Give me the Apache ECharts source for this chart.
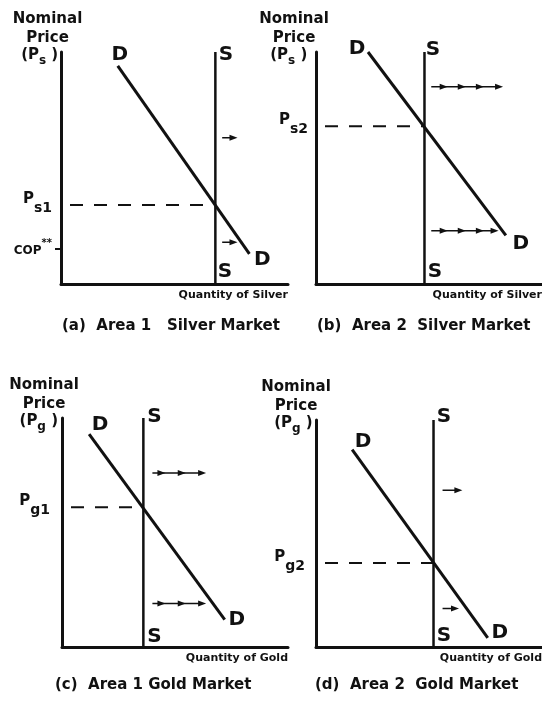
<!DOCTYPE html>
<html>
<head>
<meta charset="utf-8">
<script src="https://cdn.jsdelivr.net/npm/echarts@6/dist/echarts.min.js"></script>
<style>
html, body { margin: 0; padding: 0; background: #fff; }
#chart { width: 542px; height: 703px; }
</style>
</head>
<body>
<div id="chart"></div>
<script>
// values, every panel runs 0..10 on both axes
const captions = ['(a)  Area 1   Silver Market', '(b)  Area 2  Silver Market', '(c)  Area 1 Gold Market', '(d)  Area 2  Gold Market'];
const quantityNames = ['Quantity of Silver', 'Quantity of Silver', 'Quantity of Gold', 'Quantity of Gold'];
const priceSymbols = ['s', 's', 'g', 'g'];
const priceTicks = ['s1', 's2', 'g1', 'g2'];
const supplyQty = [6.8, 4.8, 3.6, 5.2];
const demandTop = [[2.5, 9.4], [2.3, 10.0], [1.2, 9.3], [1.6, 8.7]];
const demandBottom = [[8.3, 1.3], [8.4, 2.1], [7.2, 1.2], [7.6, 0.4]];
const eqPrice = [3.4, 6.8, 6.1, 3.7];
const copPrice = 1.5;
const arrowTail = [7.1, 5.1, 4.0, 5.6];
const upperArrowY = [6.3, 8.5, 7.6, 6.9];
const lowerArrowY = [1.8, 2.3, 1.9, 1.7];
const upperHeads = [[7.6], [5.65, 6.45, 7.25, 8.1], [4.4, 5.3, 6.2], [6.3]];
const lowerHeads = [[7.6], [5.65, 6.45, 7.25, 7.9], [4.4, 5.3, 6.2], [6.15]];

const INK = '#111';
const FONT = 'DejaVu Sans';

// layout of the four panels (pixels)
const grids = [
  { left: 61, top: 52, width: 227, height: 232 },
  { left: 316, top: 52, width: 226, height: 232 },
  { left: 62, top: 418, width: 226, height: 229 },
  { left: 316, top: 420, width: 226, height: 227 }
];
const titlePos = [[62, 319], [317, 319], [55, 678], [315, 678]];
const tickMargin = [9, 8, 12, 11];
const namePadRight = [27, 44, 36, 40];
const nameTrail = ['   ', '  ', '  ', ' '];
// label offsets from line ends: [S bottom, S top, D top, D bottom]
const labelOffsets = [
  [[9.5, -12], [10.5, 2.5], [2, -11], [13, 6]],
  [[10.5, -12], [8.5, -2.5], [-11, -3], [15, 9]],
  [[11, -10], [11, -1], [11, -9], [12, 0]],
  [[10.5, -11], [10.5, -3], [11, -8], [12, -5]]
];

function letter(text, offset) {
  return {
    show: true, position: 'inside', offset: offset, formatter: text,
    color: INK, fontFamily: FONT, fontWeight: 'bold', fontSize: 20
  };
}
function tok(size, lh, va, pad) {
  const t = { fontFamily: FONT, fontWeight: 'bold', fontSize: size, color: INK, lineHeight: lh, verticalAlign: va };
  if (pad) t.padding = pad;
  return t;
}

const xAxes = [], yAxes = [], series = [], titles = [];

for (let i = 0; i < 4; i++) {
  titles.push({
    text: captions[i], left: titlePos[i][0], top: titlePos[i][1], padding: 0,
    textStyle: { color: INK, fontFamily: FONT, fontWeight: 'bold', fontSize: 15 }
  });

  xAxes.push({
    type: 'value', gridIndex: i, min: 0, max: 10,
    axisLine: { show: true, lineStyle: { color: INK, width: 3 } },
    axisTick: { show: false }, axisLabel: { show: false }, splitLine: { show: false },
    name: quantityNames[i], nameLocation: 'end', nameGap: 0,
    nameTextStyle: {
      align: 'right', verticalAlign: 'top', padding: [6, 0, 0, 0],
      color: INK, fontFamily: FONT, fontWeight: 'bold', fontSize: 11
    }
  });

  const labelValues = i === 0 ? [copPrice, eqPrice[i]] : [eqPrice[i]];
  yAxes.push({
    type: 'value', gridIndex: i, min: 0, max: 10,
    axisLine: { show: true, lineStyle: { color: INK, width: 3 } },
    splitLine: { show: false },
    axisTick: i === 0
      ? { show: true, customValues: [copPrice], length: 6, lineStyle: { color: INK, width: 2 } }
      : { show: false },
    axisLabel: {
      show: true, customValues: labelValues, margin: tickMargin[i],
      formatter: function (v) {
        return v === copPrice && i === 0 ? '{c|COP}{sup|**}' : '{p|P}{s|' + priceTicks[i] + '}';
      },
      // sub/superscripts done with padding only, all tokens middle-aligned
      rich: {
        p: tok(15, 15, 'middle', [0, 0, 12, 0]),
        s: tok(14, 14, 'middle', [10, 0, 3, 0]),
        c: tok(12, 12, 'middle', [6.5, 0, 3.5, 0]),
        sup: tok(10, 10, 'middle', [0.5, 0, 11.5, 0])
      }
    },
    name: 'Nominal\nPrice\n{n|(P}{sub|' + priceSymbols[i] + '}{n| )' + nameTrail[i] + '}',
    nameLocation: 'end', nameGap: -15,
    nameTextStyle: {
      align: 'center', padding: [0, namePadRight[i], 0, 0], lineHeight: 19,
      color: INK, fontFamily: FONT, fontWeight: 'bold', fontSize: 15,
      rich: {
        n: tok(15, 19, 'top'),
        sub: tok(12, 12, 'bottom', [9, 0, 0, 0])
      }
    }
  });

  const off = labelOffsets[i];
  const base = { xAxisIndex: i, yAxisIndex: i, animation: false, silent: true };

  // supply (vertical)
  series.push(Object.assign({
    type: 'line', symbol: 'circle', symbolSize: 0,
    lineStyle: { color: INK, width: 2.5 },
    data: [
      { value: [supplyQty[i], 0], label: letter('S', off[0]) },
      { value: [supplyQty[i], 10], label: letter('S', off[1]) }
    ]
  }, base));

  // demand
  series.push(Object.assign({
    type: 'line', symbol: 'circle', symbolSize: 0,
    lineStyle: { color: INK, width: 3 },
    data: [
      { value: demandTop[i], label: letter('D', off[2]) },
      { value: demandBottom[i], label: letter('D', off[3]) }
    ]
  }, base));

  // dashed price level
  series.push(Object.assign({
    type: 'line', symbol: 'none',
    lineStyle: { color: INK, width: 2, type: [13, 11], dashOffset: 15 },
    data: [[0, eqPrice[i]], [supplyQty[i], eqPrice[i]]]
  }, base));

  // shift arrows
  [[upperArrowY[i], upperHeads[i]], [lowerArrowY[i], lowerHeads[i]]].forEach(function (a) {
    series.push(Object.assign({
      type: 'line', symbol: 'triangle', symbolSize: [6, 8], symbolRotate: -90, showSymbol: true,
      itemStyle: { color: INK },
      lineStyle: { color: INK, width: 1.5 },
      data: [{ value: [arrowTail[i], a[0]], symbol: 'none' }].concat(a[1].map(function (h) { return [h, a[0]]; }))
    }, base));
  });
}

const chart = echarts.init(document.getElementById('chart'));
chart.setOption({
  backgroundColor: '#fff',
  animation: false,
  title: titles,
  grid: grids.map(function (g) { return Object.assign({ outerBoundsMode: 'none' }, g); }),
  xAxis: xAxes,
  yAxis: yAxes,
  series: series
});
</script>
</body>
</html>
